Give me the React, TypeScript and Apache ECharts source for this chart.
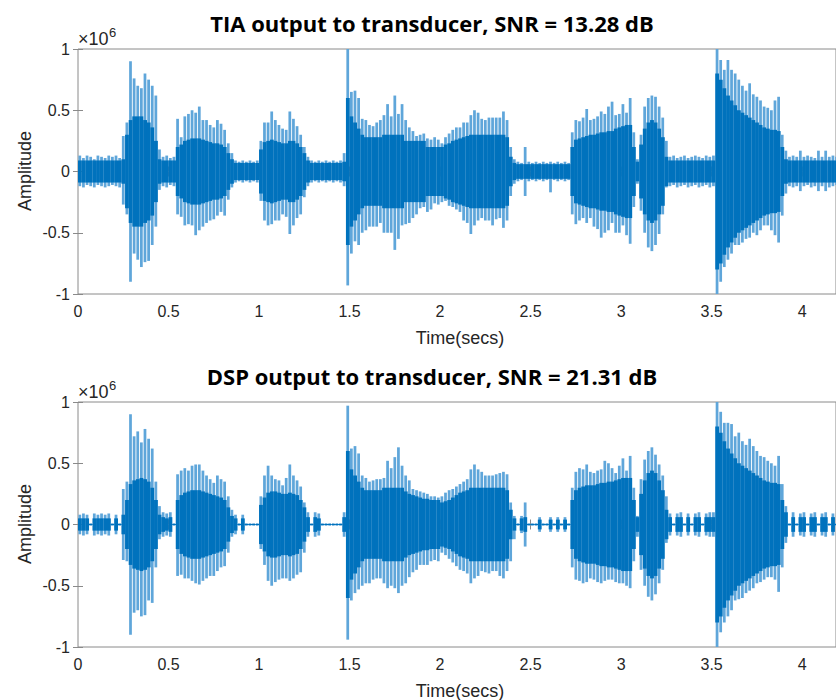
import React, { useEffect, useRef } from "react";
import * as echarts from "echarts";

// bin width in seconds (each value = waveform envelope within one bin)
const BIN = 0.02;

// TIA output: upper peak, lower peak, dense core amplitude (x1e6) per 0.02 s bin
const tiaHi = [
  0.13,0.11,0.13,0.12,0.10,0.13,0.12,0.11,0.13,0.12,
  0.13,0.11,0.29,0.40,0.90,0.76,0.70,0.68,0.80,0.75,
  0.70,0.62,0.18,0.12,0.13,0.11,0.12,0.43,0.28,0.45,
  0.47,0.50,0.48,0.53,0.42,0.42,0.38,0.36,0.42,0.39,
  0.34,0.23,0.15,0.09,0.08,0.09,0.08,0.09,0.08,0.09,
  0.25,0.40,0.40,0.49,0.42,0.38,0.35,0.34,0.49,0.43,
  0.37,0.30,0.20,0.12,0.09,0.08,0.09,0.08,0.09,0.08,
  0.09,0.08,0.09,0.15,1.00,0.65,0.66,0.60,0.43,0.42,
  0.38,0.37,0.40,0.42,0.46,0.55,0.45,0.62,0.47,0.55,
  0.42,0.36,0.33,0.29,0.30,0.31,0.27,0.26,0.28,0.26,
  0.23,0.28,0.31,0.34,0.36,0.36,0.40,0.40,0.46,0.50,
  0.48,0.43,0.42,0.44,0.44,0.44,0.44,0.49,0.42,0.20,
  0.10,0.08,0.07,0.20,0.08,0.07,0.08,0.07,0.08,0.07,
  0.08,0.07,0.08,0.07,0.08,0.07,0.32,0.42,0.41,0.44,
  0.51,0.42,0.43,0.45,0.49,0.47,0.53,0.57,0.46,0.47,
  0.55,0.48,0.60,0.32,0.10,0.30,0.53,0.60,0.62,0.61,
  0.53,0.44,0.25,0.12,0.13,0.11,0.12,0.13,0.11,0.12,
  0.13,0.12,0.11,0.13,0.12,0.13,1.00,0.91,0.83,0.91,
  0.83,0.80,0.75,0.70,0.66,0.72,0.63,0.61,0.58,0.53,
  0.52,0.50,0.58,0.61,0.30,0.17,0.12,0.13,0.12,0.17,
  0.12,0.13,0.12,0.11,0.17,0.12,0.17,0.12,0.13,0.12,
];
const tiaLo = [
  -0.12,-0.13,-0.11,-0.12,-0.13,-0.11,-0.12,-0.13,-0.12,-0.11,
  -0.12,-0.13,-0.27,-0.35,-0.90,-0.67,-0.72,-0.78,-0.74,-0.73,
  -0.60,-0.45,-0.15,-0.12,-0.13,-0.11,-0.12,-0.35,-0.37,-0.44,
  -0.43,-0.44,-0.52,-0.48,-0.45,-0.42,-0.40,-0.39,-0.36,-0.33,
  -0.36,-0.23,-0.13,-0.09,-0.08,-0.09,-0.08,-0.09,-0.08,-0.09,
  -0.24,-0.40,-0.44,-0.43,-0.40,-0.40,-0.35,-0.37,-0.51,-0.44,
  -0.38,-0.35,-0.21,-0.12,-0.09,-0.08,-0.09,-0.08,-0.09,-0.08,
  -0.09,-0.08,-0.09,-0.12,-0.93,-0.67,-0.57,-0.60,-0.50,-0.48,
  -0.45,-0.45,-0.45,-0.42,-0.50,-0.50,-0.50,-0.64,-0.55,-0.44,
  -0.43,-0.42,-0.38,-0.35,-0.30,-0.29,-0.33,-0.31,-0.26,-0.27,
  -0.25,-0.24,-0.28,-0.29,-0.31,-0.33,-0.40,-0.42,-0.51,-0.44,
  -0.40,-0.38,-0.40,-0.40,-0.44,-0.39,-0.38,-0.46,-0.40,-0.20,
  -0.10,-0.08,-0.07,-0.20,-0.08,-0.07,-0.08,-0.07,-0.08,-0.07,
  -0.17,-0.07,-0.08,-0.07,-0.08,-0.07,-0.35,-0.43,-0.40,-0.38,
  -0.42,-0.38,-0.45,-0.47,-0.54,-0.50,-0.48,-0.42,-0.50,-0.50,
  -0.44,-0.52,-0.59,-0.29,-0.10,-0.32,-0.50,-0.62,-0.65,-0.60,
  -0.51,-0.35,-0.13,-0.12,-0.11,-0.13,-0.12,-0.11,-0.13,-0.12,
  -0.11,-0.13,-0.12,-0.11,-0.13,-0.12,-1.00,-0.90,-0.78,-0.72,
  -0.67,-0.60,-0.60,-0.58,-0.55,-0.54,-0.50,-0.52,-0.48,-0.44,
  -0.44,-0.48,-0.52,-0.58,-0.36,-0.18,-0.12,-0.13,-0.12,-0.16,
  -0.12,-0.11,-0.13,-0.12,-0.16,-0.12,-0.16,-0.13,-0.12,-0.11,
];
const tiaCore = [
  0.09,0.09,0.09,0.09,0.09,0.09,0.09,0.09,0.09,0.09,
  0.09,0.09,0.10,0.30,0.42,0.45,0.45,0.45,0.42,0.40,
  0.36,0.25,0.10,0.09,0.09,0.09,0.09,0.20,0.22,0.25,
  0.26,0.27,0.27,0.27,0.26,0.25,0.24,0.23,0.23,0.22,
  0.20,0.15,0.10,0.07,0.07,0.07,0.07,0.07,0.07,0.07,
  0.18,0.24,0.25,0.26,0.25,0.24,0.23,0.23,0.25,0.25,
  0.23,0.20,0.15,0.09,0.07,0.07,0.07,0.07,0.07,0.07,
  0.07,0.07,0.07,0.08,0.60,0.45,0.40,0.35,0.30,0.28,
  0.28,0.28,0.28,0.28,0.30,0.30,0.30,0.30,0.30,0.30,
  0.25,0.25,0.25,0.25,0.25,0.25,0.20,0.20,0.20,0.20,
  0.20,0.22,0.23,0.25,0.26,0.27,0.28,0.29,0.30,0.30,
  0.30,0.30,0.30,0.30,0.30,0.30,0.30,0.30,0.28,0.12,
  0.07,0.06,0.06,0.06,0.06,0.06,0.06,0.06,0.06,0.06,
  0.06,0.06,0.06,0.06,0.06,0.06,0.20,0.26,0.27,0.28,
  0.29,0.30,0.30,0.31,0.32,0.32,0.33,0.33,0.35,0.36,
  0.37,0.38,0.38,0.20,0.08,0.22,0.35,0.40,0.42,0.40,
  0.35,0.28,0.12,0.09,0.09,0.09,0.09,0.09,0.09,0.09,
  0.09,0.09,0.09,0.09,0.09,0.09,0.80,0.75,0.68,0.62,
  0.58,0.54,0.50,0.48,0.46,0.44,0.42,0.40,0.38,0.36,
  0.35,0.34,0.34,0.33,0.20,0.10,0.09,0.09,0.09,0.09,
  0.09,0.09,0.09,0.09,0.09,0.09,0.09,0.09,0.09,0.09,
];

// DSP output
const dspHi = [
  0.08,0.09,0.08,0.01,0.09,0.08,0.09,0.08,0.09,0.01,
  0.08,0.01,0.29,0.35,0.90,0.72,0.76,0.67,0.78,0.70,
  0.62,0.35,0.15,0.10,0.09,0.10,0.01,0.41,0.44,0.46,
  0.44,0.48,0.49,0.49,0.44,0.40,0.37,0.34,0.40,0.37,
  0.35,0.23,0.12,0.08,0.01,0.08,0.01,0.01,0.01,0.01,
  0.23,0.40,0.48,0.40,0.37,0.36,0.32,0.38,0.49,0.40,
  0.36,0.31,0.18,0.10,0.01,0.10,0.09,0.01,0.01,0.01,
  0.01,0.01,0.01,0.10,0.97,0.62,0.64,0.58,0.40,0.38,
  0.35,0.36,0.37,0.37,0.38,0.52,0.46,0.55,0.63,0.48,
  0.40,0.36,0.29,0.28,0.27,0.26,0.25,0.23,0.23,0.22,
  0.23,0.26,0.28,0.29,0.31,0.33,0.35,0.37,0.45,0.49,
  0.45,0.43,0.40,0.40,0.40,0.41,0.42,0.43,0.41,0.18,
  0.07,0.01,0.07,0.18,0.01,0.01,0.01,0.06,0.01,0.01,
  0.06,0.01,0.06,0.01,0.06,0.01,0.30,0.43,0.46,0.45,
  0.49,0.43,0.42,0.44,0.45,0.52,0.50,0.46,0.42,0.48,
  0.54,0.44,0.56,0.30,0.07,0.37,0.53,0.60,0.63,0.57,
  0.49,0.40,0.23,0.09,0.01,0.09,0.10,0.01,0.09,0.01,
  0.09,0.10,0.01,0.09,0.10,0.10,1.00,0.92,0.83,0.83,
  0.82,0.72,0.75,0.68,0.65,0.70,0.64,0.60,0.56,0.55,
  0.52,0.50,0.48,0.56,0.33,0.15,0.01,0.10,0.01,0.09,
  0.10,0.01,0.09,0.10,0.01,0.09,0.10,0.01,0.09,0.01,
];
const dspLo = [
  -0.08,-0.09,-0.08,-0.01,-0.09,-0.08,-0.09,-0.08,-0.09,-0.01,
  -0.08,-0.01,-0.29,-0.30,-0.90,-0.72,-0.70,-0.75,-0.74,-0.62,
  -0.64,-0.35,-0.12,-0.10,-0.09,-0.10,-0.01,-0.42,-0.41,-0.44,
  -0.44,-0.46,-0.48,-0.49,-0.46,-0.44,-0.42,-0.42,-0.38,-0.35,
  -0.34,-0.23,-0.10,-0.08,-0.01,-0.08,-0.01,-0.01,-0.01,-0.01,
  -0.20,-0.33,-0.46,-0.50,-0.47,-0.45,-0.44,-0.44,-0.46,-0.44,
  -0.41,-0.39,-0.23,-0.10,-0.01,-0.10,-0.09,-0.01,-0.01,-0.01,
  -0.01,-0.01,-0.01,-0.10,-0.94,-0.62,-0.56,-0.53,-0.50,-0.48,
  -0.48,-0.45,-0.44,-0.44,-0.48,-0.52,-0.50,-0.52,-0.56,-0.50,
  -0.48,-0.43,-0.39,-0.37,-0.33,-0.33,-0.33,-0.30,-0.29,-0.30,
  -0.23,-0.25,-0.28,-0.31,-0.34,-0.37,-0.38,-0.40,-0.48,-0.44,
  -0.42,-0.38,-0.39,-0.40,-0.38,-0.38,-0.42,-0.44,-0.38,-0.30,
  -0.12,-0.01,-0.07,-0.18,-0.01,-0.01,-0.01,-0.06,-0.01,-0.01,
  -0.06,-0.01,-0.06,-0.01,-0.06,-0.01,-0.35,-0.45,-0.46,-0.48,
  -0.47,-0.44,-0.45,-0.47,-0.48,-0.46,-0.45,-0.45,-0.47,-0.48,
  -0.48,-0.50,-0.52,-0.30,-0.10,-0.37,-0.50,-0.59,-0.62,-0.57,
  -0.48,-0.37,-0.15,-0.09,-0.01,-0.09,-0.10,-0.01,-0.09,-0.01,
  -0.09,-0.10,-0.01,-0.09,-0.10,-0.10,-1.00,-0.88,-0.80,-0.75,
  -0.70,-0.62,-0.61,-0.60,-0.56,-0.54,-0.52,-0.48,-0.47,-0.45,
  -0.43,-0.43,-0.45,-0.55,-0.35,-0.15,-0.01,-0.10,-0.01,-0.09,
  -0.10,-0.01,-0.09,-0.10,-0.01,-0.09,-0.10,-0.01,-0.09,-0.01,
];
const dspCore = [
  0.05,0.05,0.05,0.004,0.05,0.05,0.05,0.05,0.05,0.004,
  0.05,0.004,0.08,0.20,0.33,0.36,0.37,0.38,0.37,0.35,
  0.30,0.20,0.08,0.06,0.05,0.06,0.004,0.20,0.24,0.26,
  0.27,0.28,0.28,0.28,0.27,0.26,0.25,0.24,0.23,0.22,
  0.20,0.14,0.07,0.05,0.004,0.05,0.004,0.004,0.004,0.004,
  0.16,0.22,0.26,0.27,0.27,0.26,0.25,0.25,0.26,0.25,
  0.24,0.20,0.14,0.06,0.004,0.06,0.05,0.004,0.004,0.004,
  0.004,0.004,0.004,0.06,0.60,0.45,0.40,0.35,0.30,0.28,
  0.28,0.28,0.28,0.28,0.30,0.30,0.30,0.30,0.30,0.30,
  0.27,0.25,0.24,0.23,0.22,0.21,0.21,0.20,0.20,0.20,
  0.18,0.19,0.20,0.22,0.24,0.26,0.27,0.28,0.30,0.30,
  0.30,0.30,0.30,0.30,0.30,0.30,0.30,0.30,0.28,0.12,
  0.05,0.004,0.05,0.06,0.004,0.004,0.004,0.04,0.004,0.004,
  0.04,0.004,0.04,0.004,0.04,0.004,0.20,0.28,0.30,0.31,
  0.32,0.32,0.32,0.33,0.34,0.34,0.35,0.35,0.36,0.37,
  0.38,0.38,0.38,0.20,0.06,0.25,0.36,0.42,0.44,0.42,
  0.36,0.28,0.12,0.06,0.004,0.06,0.06,0.004,0.06,0.004,
  0.06,0.06,0.004,0.06,0.06,0.06,0.80,0.75,0.68,0.62,
  0.58,0.54,0.50,0.48,0.46,0.44,0.42,0.40,0.38,0.36,
  0.35,0.34,0.34,0.33,0.20,0.10,0.004,0.06,0.004,0.06,
  0.06,0.004,0.06,0.06,0.004,0.06,0.06,0.004,0.06,0.004,
];

const titles = [
  "TIA output to transducer, SNR = 13.28 dB",
  "DSP output to transducer, SNR = 21.31 dB",
];
const xName = "Time(secs)";
const yName = "Amplitude";
const X_MAX = 4.187;
const X_INTERVAL = 0.5;
const Y_MIN = -1;
const Y_MAX = 1;
const Y_INTERVAL = 0.5;

const CORE = "#0072BD";
const FRINGE = "#5fa6da";
const TEXT = "#262626";
const BOX = "#8a8a8a";
const LABEL_FONT = "'Liberation Sans', Arial, Helvetica, sans-serif";

function buildData(hi: number[], lo: number[], core: number[]) {
  return hi.map((h, i) => [i * BIN + BIN / 2, lo[i], h, core[i]]);
}

const renderWave = (params: any, api: any) => {
  const t = api.value(0);
  const lo = api.value(1);
  const hi = api.value(2);
  const c = api.value(3);
  const top = api.coord([t, hi]);
  const bot = api.coord([t, lo]);
  const cTop = api.coord([t, c]);
  const cBot = api.coord([t, -c]);
  const w = api.size([BIN, 0])[0];
  return {
    type: "group",
    children: [
      {
        type: "rect",
        shape: { x: top[0] - w * 0.38, y: top[1], width: w * 0.76, height: Math.max(1, bot[1] - top[1]) },
        style: { fill: FRINGE },
      },
      {
        type: "rect",
        shape: { x: cTop[0] - w / 2, y: cTop[1], width: w + 0.2, height: Math.max(1, cBot[1] - cTop[1]) },
        style: { fill: CORE },
      },
    ],
  };
};

const GRID_TOPS = [49, 402];
const GRID_H = 245;
const GRID_LEFT = 78;
const GRID_W = 760;

export default function App() {
  const ref = useRef<HTMLDivElement>(null);
  useEffect(() => {
    if (!ref.current) return;
    const chart = echarts.init(ref.current, null, { renderer: "svg" });
    const grids = GRID_TOPS.map((top) => ({
      left: GRID_LEFT,
      top,
      width: GRID_W,
      height: GRID_H,
      show: true,
      borderColor: BOX,
      borderWidth: 1,
      backgroundColor: "#fff",
    }));
    const xAxes: any[] = [];
    const yAxes: any[] = [];
    [0, 1].forEach((g) => {
      ["bottom", "top"].forEach((pos) => {
        xAxes.push({
          type: "value",
          gridIndex: g,
          position: pos,
          min: 0,
          max: X_MAX,
          interval: X_INTERVAL,
          axisLine: { show: false },
          splitLine: { show: false },
          axisTick: { show: true, inside: true, length: 5, lineStyle: { color: BOX } },
          axisLabel: {
            show: pos === "bottom",
            showMaxLabel: false,
            color: TEXT,
            fontSize: 16,
            fontFamily: LABEL_FONT,
            margin: 9,
          },
        });
      });
      ["left", "right"].forEach((pos) => {
        yAxes.push({
          type: "value",
          gridIndex: g,
          position: pos,
          min: Y_MIN,
          max: Y_MAX,
          interval: Y_INTERVAL,
          axisLine: { show: false },
          splitLine: { show: false },
          axisTick: { show: true, inside: true, length: 5, lineStyle: { color: BOX } },
          axisLabel: {
            show: pos === "left",
            color: TEXT,
            fontSize: 16,
            fontFamily: LABEL_FONT,
            margin: 8,
          },
        });
      });
    });

    const series = [
      buildData(tiaHi, tiaLo, tiaCore),
      buildData(dspHi, dspLo, dspCore),
    ].map((data, g) => ({
      type: "custom",
      xAxisIndex: g * 2,
      yAxisIndex: g * 2,
      renderItem: renderWave,
      encode: { x: 0, y: [1, 2] },
      clip: true,
      data,
      silent: true,
    }));

    const graphic: any[] = [];
    [0, 1].forEach((g) => {
      const off = g * 353;
      graphic.push({
        type: "text",
        x: 432,
        y: 23 + off,
        style: {
          text: titles[g],
          font: "bold 22px 'Open Sans', 'Noto Sans', sans-serif",
          fill: "#000",
          align: "center",
          verticalAlign: "middle",
          textAlign: "center",
          textVerticalAlign: "middle",
        },
      });
      graphic.push({
        type: "text",
        x: 460,
        y: 338 + off,
        style: {
          text: xName,
          font: `18px ${LABEL_FONT}`,
          fill: TEXT,
          align: "center",
          verticalAlign: "middle",
          textAlign: "center",
          textVerticalAlign: "middle",
        },
      });
      graphic.push({
        type: "text",
        x: 25,
        y: 171 + off,
        rotation: Math.PI / 2,
        style: {
          text: yName,
          font: `18px ${LABEL_FONT}`,
          fill: TEXT,
          align: "center",
          verticalAlign: "middle",
          textAlign: "center",
          textVerticalAlign: "middle",
        },
      });
      graphic.push({
        type: "text",
        x: 78,
        y: 39 + off,
        style: {
          text: "×10",
          font: `18px ${LABEL_FONT}`,
          fill: TEXT,
          align: "left",
          verticalAlign: "middle",
          textAlign: "left",
          textVerticalAlign: "middle",
        },
      });
      graphic.push({
        type: "text",
        x: 109,
        y: 32 + off,
        style: {
          text: "6",
          font: `13px ${LABEL_FONT}`,
          fill: TEXT,
          align: "left",
          verticalAlign: "middle",
          textAlign: "left",
          textVerticalAlign: "middle",
        },
      });
    });

    chart.setOption({
      animation: false,
      backgroundColor: "#fff",
      grid: grids,
      xAxis: xAxes,
      yAxis: yAxes,
      series,
      graphic,
    });
    return () => chart.dispose();
  }, []);
  return (
    <div
      ref={ref}
      style={{ position: "fixed", left: 0, top: 0, width: 836, height: 700 }}
    />
  );
}
